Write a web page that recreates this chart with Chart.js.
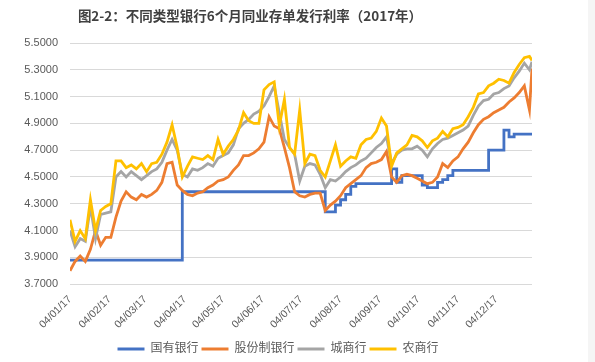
<!DOCTYPE html>
<html>
<head>
<meta charset="utf-8">
<script src="https://cdn.jsdelivr.net/npm/chart.js@4.4.1/dist/chart.umd.min.js"></script>
<style>
  html, body { margin: 0; padding: 0; background: #fff; }
  #quadro { position: relative; width: 595px; height: 362px; overflow: hidden; }
  #titulo { position: absolute; left: 0; top: 5px; width: 500px; text-align: center;
            font: bold 13.5px "Noto Sans CJK SC", sans-serif; color: #404040; }
  #borda { position: absolute; left: 588px; top: 0; width: 7px; height: 362px; background: #f5f5f5; }
  canvas { position: absolute; left: 0; top: 0; }
</style>
</head>
<body>
<div id="quadro">
  <canvas id="grafico" width="595" height="362"></canvas>
  <div id="titulo">图2-2：不同类型银行6个月同业存单发行利率（2017年）</div>
  <div id="borda"></div>
</div>
<script>
// dia do ano (1 = 01/01/2017), um ponto a cada 4 dias
const dias = [4, 8, 12, 16, 20, 24, 28, 32, 36, 40, 44, 48, 52, 56, 60, 64, 68, 72, 76, 80,
  84, 88, 92, 96, 100, 104, 108, 112, 116, 120, 124, 128, 132, 136, 140, 144, 148, 152, 156, 160,
  164, 168, 172, 176, 180, 184, 188, 192, 196, 200, 204, 208, 212, 216, 220, 224, 228, 232, 236, 240,
  244, 248, 252, 256, 260, 264, 268, 272, 276, 280, 284, 288, 292, 296, 300, 304, 308, 312, 316, 320,
  324, 328, 332, 336, 340, 344, 348, 352, 356, 360, 364, 366];

const diasTick = [4, 35, 63, 94, 124, 155, 185, 216, 247, 277, 308, 338];
const rotulosX = ['04/01/17', '04/02/17', '04/03/17', '04/04/17', '04/05/17', '04/06/17',
  '04/07/17', '04/08/17', '04/09/17', '04/10/17', '04/11/17', '04/12/17'];

const guoyou = [3.88, 3.88, 3.88, 3.88, 3.88, 3.88, 3.88, 3.88, 3.88, 3.88, 3.88, 3.88, 3.88, 3.88, 3.88, 3.88, 3.88, 3.88, 3.88, 3.88,
  3.88, 3.88, 4.39, 4.39, 4.39, 4.39, 4.39, 4.39, 4.39, 4.39, 4.39, 4.39, 4.39, 4.39, 4.39, 4.39, 4.39, 4.39, 4.39, 4.39,
  4.39, 4.39, 4.39, 4.39, 4.39, 4.39, 4.39, 4.39, 4.39, 4.39, 4.24, 4.24, 4.29, 4.33, 4.37, 4.43, 4.45, 4.45, 4.45, 4.45,
  4.45, 4.45, 4.45, 4.56, 4.46, 4.51, 4.51, 4.51, 4.51, 4.44, 4.42, 4.42, 4.46, 4.48, 4.51, 4.55, 4.55, 4.55, 4.55, 4.55,
  4.55, 4.55, 4.70, 4.70, 4.70, 4.85, 4.80, 4.82, 4.82, 4.82, 4.82, 4.82];

const gufen = [3.80, 3.87, 3.91, 3.87, 3.96, 4.10, 3.99, 4.05, 4.05, 4.20, 4.32, 4.39, 4.35, 4.33, 4.37, 4.35, 4.37, 4.40, 4.46, 4.60,
  4.61, 4.44, 4.40, 4.37, 4.36, 4.38, 4.39, 4.42, 4.44, 4.47, 4.48, 4.50, 4.55, 4.59, 4.66, 4.66, 4.68, 4.71, 4.76, 4.95,
  4.88, 4.86, 4.72, 4.57, 4.39, 4.36, 4.35, 4.37, 4.38, 4.38, 4.25, 4.29, 4.32, 4.36, 4.42, 4.45, 4.48, 4.51, 4.57, 4.60,
  4.61, 4.63, 4.69, 4.50, 4.46, 4.51, 4.52, 4.51, 4.49, 4.47, 4.45, 4.46, 4.50, 4.60, 4.57, 4.62, 4.65, 4.71, 4.76, 4.83,
  4.89, 4.93, 4.95, 4.98, 5.00, 5.02, 5.06, 5.09, 5.13, 5.18, 5.00, 5.31];

const chengshang = [4.10, 3.98, 4.04, 4.02, 4.28, 4.04, 4.22, 4.23, 4.24, 4.50, 4.54, 4.50, 4.54, 4.51, 4.48, 4.51, 4.54, 4.56, 4.61, 4.70,
  4.78, 4.70, 4.52, 4.50, 4.56, 4.55, 4.57, 4.60, 4.58, 4.64, 4.66, 4.68, 4.74, 4.86, 4.90, 4.93, 4.97, 4.99, 5.03, 5.10,
  5.18, 4.98, 4.78, 4.72, 4.67, 4.47, 4.58, 4.60, 4.59, 4.52, 4.42, 4.48, 4.47, 4.50, 4.54, 4.57, 4.59, 4.62, 4.64, 4.68,
  4.72, 4.75, 4.80, 4.60, 4.67, 4.70, 4.71, 4.71, 4.73, 4.70, 4.65, 4.71, 4.75, 4.78, 4.79, 4.81, 4.83, 4.85, 4.88, 4.96,
  5.03, 5.07, 5.08, 5.12, 5.13, 5.16, 5.18, 5.24, 5.29, 5.35, 5.30, 5.36];

const nongshang = [4.18, 4.02, 4.10, 4.04, 4.33, 4.10, 4.25, 4.28, 4.30, 4.62, 4.62, 4.57, 4.59, 4.56, 4.60, 4.54, 4.60, 4.61, 4.67, 4.76,
  4.89, 4.72, 4.50, 4.58, 4.65, 4.64, 4.63, 4.66, 4.63, 4.78, 4.67, 4.73, 4.78, 4.85, 4.98, 4.92, 4.90, 4.90, 5.15, 5.19,
  5.21, 4.88, 5.08, 4.72, 4.67, 5.00, 4.60, 4.67, 4.66, 4.55, 4.50, 4.62, 4.74, 4.58, 4.62, 4.65, 4.64, 4.74, 4.78, 4.79,
  4.84, 4.94, 4.88, 4.58, 4.68, 4.71, 4.74, 4.81, 4.80, 4.77, 4.72, 4.77, 4.79, 4.84, 4.80, 4.86, 4.87, 4.89, 4.95, 5.02,
  5.12, 5.13, 5.18, 5.20, 5.23, 5.22, 5.20, 5.28, 5.34, 5.39, 5.40, 5.37];

const fonte = '"Liberation Sans", "Noto Sans CJK SC", sans-serif';
const cinzaTexto = '#595959';

function serie(nome, valores, cor, ordem, degrau) {
  return {
    label: nome,
    data: valores,
    borderColor: cor,
    backgroundColor: cor,
    borderWidth: 2.8,
    pointRadius: 0,
    tension: 0,
    stepped: degrau,
    order: ordem
  };
}

const grafico = new Chart(document.getElementById('grafico'), {
  type: 'line',
  data: {
    labels: dias,
    datasets: [
      serie('国有银行', guoyou, '#4472C4', 4, true),
      serie('股份制银行', gufen, '#ED7D31', 3, false),
      serie('城商行', chengshang, '#A5A5A5', 2, false),
      serie('农商行', nongshang, '#FFC000', 1, false)
    ]
  },
  options: {
    responsive: false,
    animation: false,
    layout: { padding: { left: 24, right: 63, top: 43, bottom: -3 } },
    plugins: {
      tooltip: { enabled: false },
      legend: {
        position: 'bottom',
        labels: {
          boxWidth: 27,
          boxHeight: 3,
          padding: 3,
          color: cinzaTexto,
          font: { size: 12, family: fonte },
          sort: (a, b) => a.datasetIndex - b.datasetIndex,
          generateLabels: chart => Chart.defaults.plugins.legend.labels.generateLabels(chart)
            .map(item => Object.assign(item, { lineWidth: 0 }))
        }
      }
    },
    scales: {
      x: {
        type: 'linear',
        min: 4,
        max: 366,
        grid: { display: false, drawTicks: false },
        border: { display: false },
        afterBuildTicks: escala => { escala.ticks = diasTick.map(v => ({ value: v })); },
        ticks: {
          autoSkip: false,
          minRotation: 45,
          maxRotation: 45,
          padding: 9,
          color: cinzaTexto,
          font: { size: 10.5, family: fonte },
          callback: (valor, i) => rotulosX[i]
        }
      },
      y: {
        min: 3.7,
        max: 5.5,
        grid: { color: '#d9d9d9', drawTicks: false },
        border: { display: false },
        afterFit: escala => { escala.width = 46; },
        ticks: {
          stepSize: 0.2,
          padding: 12,
          color: cinzaTexto,
          font: { size: 11, family: fonte },
          callback: valor => valor.toFixed(4)
        }
      }
    }
  }
});
</script>
</body>
</html>
